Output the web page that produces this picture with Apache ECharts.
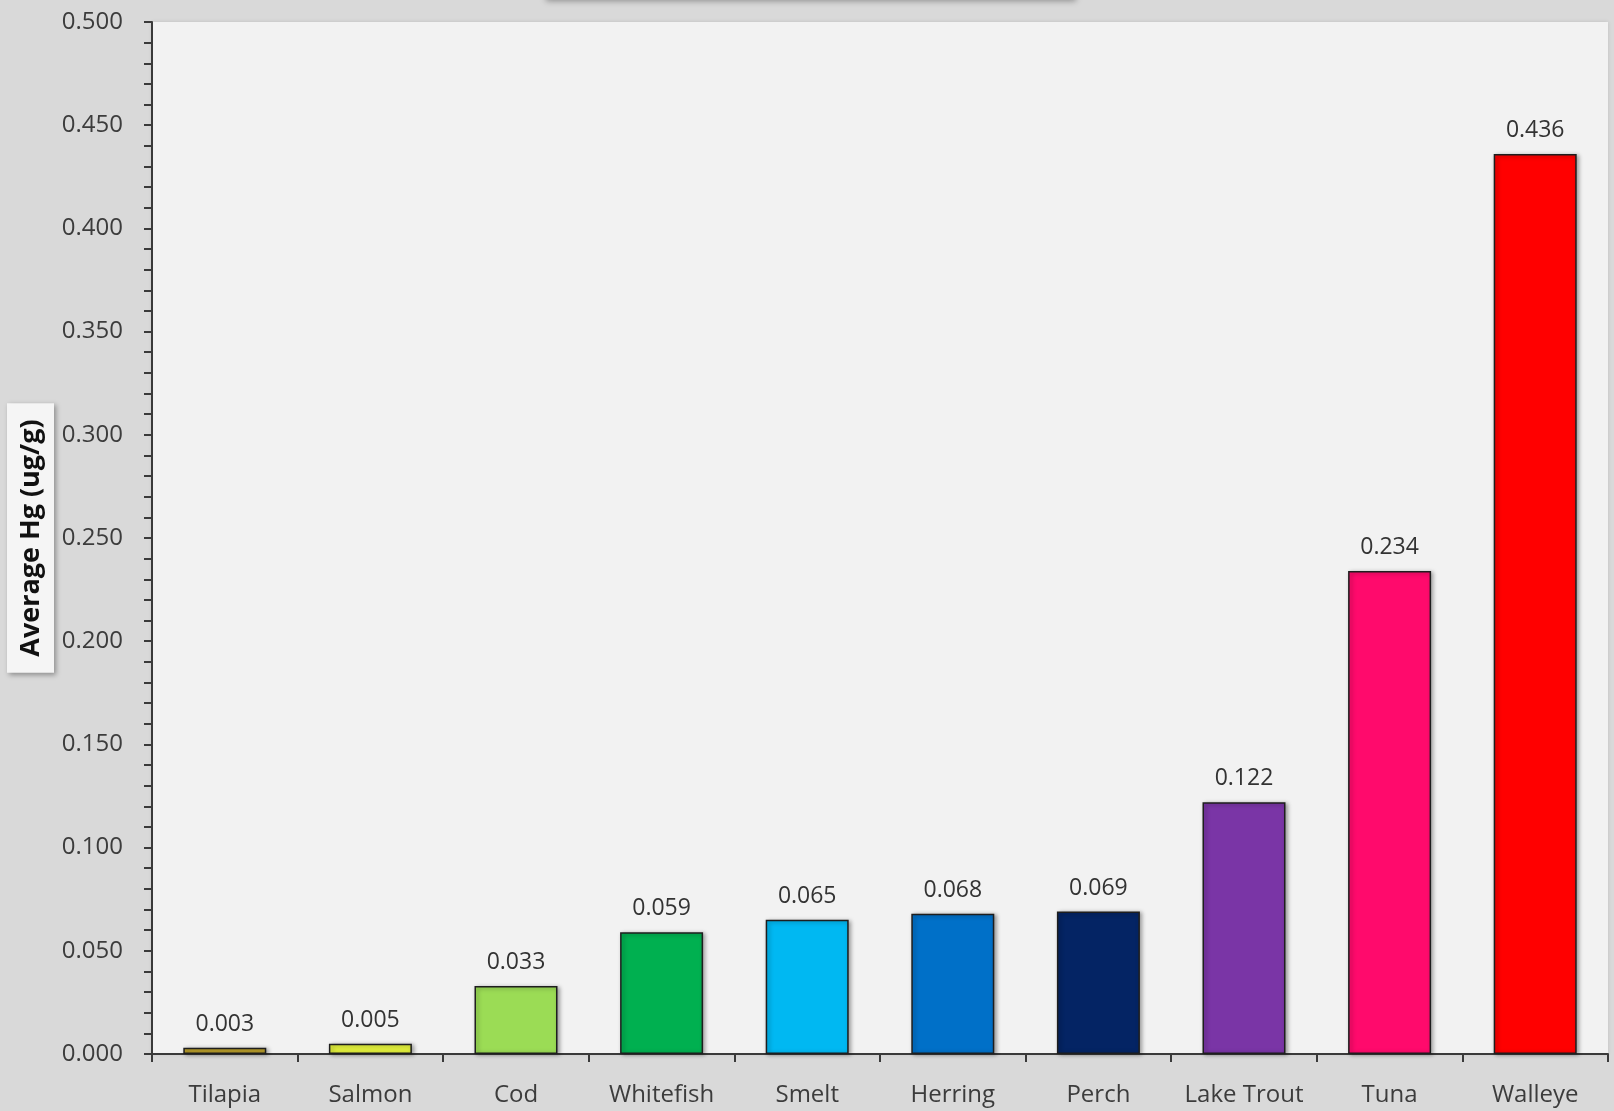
<!DOCTYPE html>
<html>
<head>
<meta charset="utf-8">
<title>Average Hg by fish</title>
<script src="https://cdn.jsdelivr.net/npm/echarts@6/dist/echarts.min.js"></script>
<style>
  html, body { margin: 0; padding: 0; background: #d9d9d9; }
  #chart { width: 1614px; height: 1111px; }
</style>
</head>
<body>
<div id="chart"></div>
<script>
// fish species, left to right
const fish = ['Tilapia', 'Salmon', 'Cod', 'Whitefish', 'Smelt', 'Herring', 'Perch', 'Lake Trout', 'Tuna', 'Walleye']
// average mercury, ug/g
const avgHg = [0.003, 0.005, 0.033, 0.059, 0.065, 0.068, 0.069, 0.122, 0.234, 0.436]
// bar fill per fish
const palette = ['#bfa32c', '#e2f03c', '#9bdc55', '#00b050', '#00b8f2', '#0070c8', '#042464', '#7a35a6', '#ff0a6c', '#ff0000']

const chart = echarts.init(document.getElementById('chart'))

chart.setOption({
  backgroundColor: '#d9d9d9',
  textStyle: { fontFamily: 'Open Sans' },
  graphic: [{
    // title box cut off at the top edge
    type: 'rect',
    shape: { x: 546, y: -40, width: 530, height: 40 },
    style: { fill: '#e4e4e4', shadowColor: 'rgba(0,0,0,0.35)', shadowBlur: 6, shadowOffsetY: 1 },
    z: 10
  }],
  grid: {
    left: 152,
    top: 22,
    right: 6,
    bottom: 57,
    outerBoundsMode: 'none',
    show: true,
    backgroundColor: '#f2f2f2',
    borderWidth: 0,
    shadowColor: 'rgba(0,0,0,0.12)',
    shadowBlur: 4
  },
  xAxis: {
    type: 'category',
    data: fish,
    axisLine: { lineStyle: { color: '#3a3a3a', width: 2 } },
    axisTick: { show: true, length: 8, lineStyle: { color: '#3a3a3a', width: 2 } },
    axisLabel: { color: '#3c3c3c', fontSize: 24, margin: 29, interval: 0 }
  },
  yAxis: {
    type: 'value',
    min: 0,
    max: 0.5,
    interval: 0.05,
    name: 'Average Hg (ug/g)',
    nameLocation: 'middle',
    nameRotate: 90,
    nameGap: 98,
    nameMoveOverlap: false,
    nameTextStyle: {
      color: '#111111',
      fontSize: 27,
      fontWeight: 'bold',
      backgroundColor: '#f5f5f5',
      padding: [11, 16, 9, 16],
      shadowColor: 'rgba(0,0,0,0.35)',
      shadowBlur: 5,
      shadowOffsetX: 2,
      shadowOffsetY: 2
    },
    axisLine: { show: true, lineStyle: { color: '#3a3a3a', width: 2 } },
    axisTick: { show: true, length: 8, lineStyle: { color: '#3a3a3a', width: 2 } },
    minorTick: { show: true, splitNumber: 5, length: 8, lineStyle: { color: '#3a3a3a', width: 2 } },
    splitLine: { show: false },
    axisLabel: {
      color: '#3c3c3c',
      fontSize: 24,
      margin: 29,
      formatter: function (v) { return v.toFixed(3) }
    }
  },
  series: [{
    type: 'bar',
    barWidth: '57%',
    data: avgHg.map(function (v, i) {
      return {
        value: v,
        itemStyle: {
          color: palette[i]
        }
      }
    }),
    itemStyle: {
      borderColor: '#1e1e1e',
      borderWidth: 1.5,
      shadowColor: 'rgba(0,0,0,0.35)',
      shadowBlur: 4,
      shadowOffsetX: 2,
      shadowOffsetY: 1
    },
    label: {
      show: true,
      position: 'top',
      distance: 12,
      color: '#333333',
      fontSize: 23,
      formatter: function (p) { return p.value.toFixed(3) }
    }
  }]
})
</script>
</body>
</html>
